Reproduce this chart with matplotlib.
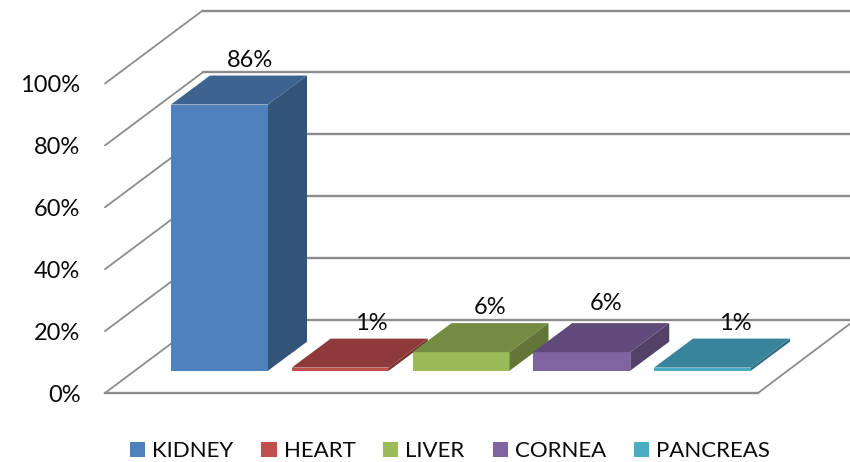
import matplotlib
matplotlib.use("Agg")
import matplotlib.pyplot as plt
from matplotlib.patches import Polygon, Patch

categories = ["KIDNEY", "HEART", "LIVER", "CORNEA", "PANCREAS"]
values = [86, 1, 6, 6, 1]
value_labels = ["86%", "1%", "6%", "6%", "1%"]
ticks = [0, 20, 40, 60, 80, 100]
tick_labels = ["0%", "20%", "40%", "60%", "80%", "100%"]

front_colors = ["#4F81BD", "#C0504D", "#9BBB59", "#8064A2", "#4BACC6"]
top_colors = ["#3D6491", "#8F3A3A", "#748C42", "#604A7B", "#38849A"]
side_colors = ["#335479", "#7A3130", "#617637", "#534168", "#2F6F81"]
label_nudge_px = [(0, 0), (1, 0), (-1, 0), (-6, -4), (3, 0)]

plt.rcParams["font.family"] = ["Lato", "DejaVu Sans"]
W, H = 850, 462
fig = plt.figure(figsize=(W / 100, H / 100), dpi=100)
ax = fig.add_axes([0, 0, 1, 1])

# scale: category index and percent on the plane of the bars' front faces
PX_CAT = 120.75
PX_PCT = 3.095
X0, Y0 = 219.5, 370.7
ax.set_xlim(-X0 / PX_CAT, (W - X0) / PX_CAT)
ax.set_ylim((Y0 - H) / PX_PCT, Y0 / PX_PCT)
ax.axis("off")


def dx(px):
    return px / PX_CAT


def dy(px):
    return px / PX_PCT


def xpix(px):
    return (px - X0) / PX_CAT


# walls and floor
GRID = "#8C8C8C"
fl_dy = 22.3
depth_dy = 73
xl_front, xl_back = xpix(105), xpix(202.7)
for t in ticks:
    yf = t - dy(fl_dy)
    yb = yf + dy(depth_dy)
    ax.plot([xl_front, xl_back], [yf, yb], color=GRID, lw=1.3, zorder=1, solid_capstyle="round")
    ax.plot([xl_back, xpix(850)], [yb, yb], color=GRID, lw=1.7, zorder=1)
    ax.text(xpix(80.5), yf + dy(-2), tick_labels[ticks.index(t)], ha="right", va="center",
            fontsize=17, color="#0A0A0A", zorder=5)
yf0 = -dy(fl_dy)
ax.plot([xl_front, xpix(758)], [yf0, yf0], color=GRID, lw=1.7, zorder=1)
ax.plot([xpix(758), xpix(855)], [yf0, yf0 + dy(depth_dy)], color=GRID, lw=1.3, zorder=1)

# bars
bw = 97 / PX_CAT
ddx, ddy = dx(39), dy(29)
xs = list(range(len(values)))
ax.bar(xs, values, width=bw, color=front_colors, zorder=3, linewidth=0)
for x, v, ct, cs in zip(xs, values, top_colors, side_colors):
    l, r = x - bw / 2, x + bw / 2
    ax.add_patch(Polygon([(l, v), (r, v), (r + ddx, v + ddy), (l + ddx, v + ddy)],
                         closed=True, fc=ct, ec="none", zorder=3))
    ax.add_patch(Polygon([(r, 0), (r + ddx, ddy), (r + ddx, v + ddy), (r, v)],
                         closed=True, fc=cs, ec="none", zorder=3))

# value labels
for x, v, s, (nx, ny) in zip(xs, values, value_labels, label_nudge_px):
    ax.text(x + dx(30 + nx), v + ddy + dy(15.5 - ny), s, ha="center", va="center",
            fontsize=17, color="#0A0A0A", zorder=6)

# legend
handles = [Patch(fc=c, ec="none") for c in front_colors]
ax.legend(handles, categories, loc="center", bbox_to_anchor=(450 / W, 1 - 451 / H),
          ncol=5, frameon=False, fontsize=16, handlelength=0.68, handleheight=0.68,
          handletextpad=0.32, columnspacing=1.25, labelcolor="#0A0A0A",
          borderpad=0, borderaxespad=0)

fig.savefig("out.png", dpi=100)
